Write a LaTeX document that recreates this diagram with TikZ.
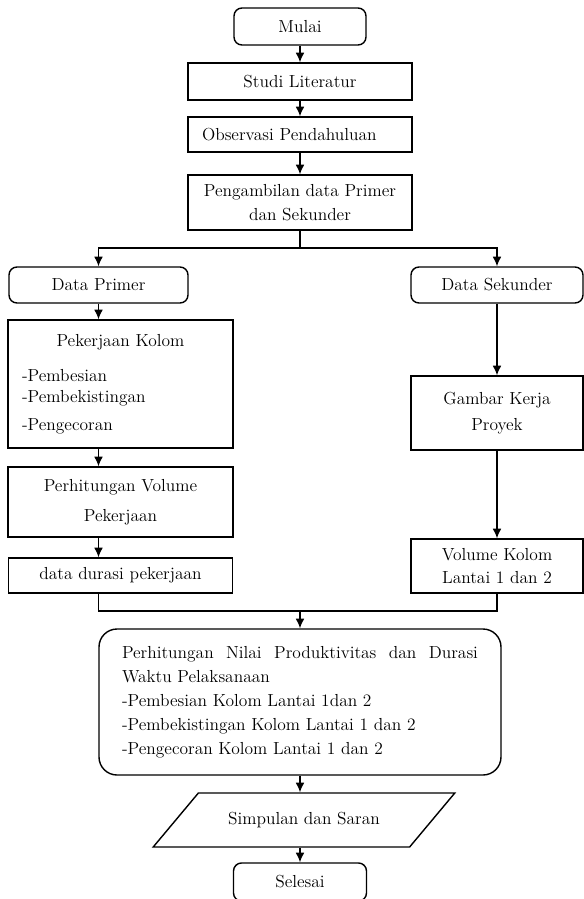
\documentclass[tikz,border=0pt]{standalone}
\usepackage{tikz}
\usetikzlibrary{arrows.meta,positioning,shapes.geometric}

\begin{document}
\begin{tikzpicture}[->,>={Latex[length=2.4mm,width=2.2mm]},line width=1pt,font=\fontsize{12.4}{17}\selectfont]
\tikzstyle{kotak}=[draw,rectangle,text=black,align=center,inner sep=2pt]
\tikzstyle{terminal}=[kotak,rounded corners=0.2cm]
\tikzstyle{data}=[draw,trapezium,trapezium left angle=36,trapezium right angle=144,trapezium stretches=true,minimum width=7.55cm,minimum height=1.35cm]

\useasboundingbox (0,0) rectangle (14.6,-22.475);

\node[terminal,minimum width=3.3cm,minimum height=0.925cm]	(mulai) at (7.5,-0.6625) {Mulai};
\node[kotak,minimum width=5.6cm,minimum height=0.925cm]	(studi) [below of=mulai,node distance=1.375cm] {Studi Literatur};
\node[kotak,minimum width=5.6cm,minimum height=0.875cm,text width=4.9cm,align=left]	(obs) [below of=studi,node distance=1.325cm] {Observasi Pendahuluan};
\node[kotak,minimum width=5.6cm,minimum height=1.375cm]	(ambil) [below of=obs,node distance=1.7cm] {Pengambilan data Primer\\dan Sekunder};

\node[terminal,minimum width=4.475cm,minimum height=0.9cm]	(primer) at (2.4625,-7.125) {Data Primer};
\node[kotak,minimum width=5.625cm,minimum height=3.2cm,text width=4.925cm,align=left]	(kolom) [below of=primer,node distance=2.475cm,xshift=0.55cm] {\makebox[\linewidth]{Pekerjaan Kolom}\\[8pt]-Pembesian\\[-2pt]-Pembekistingan\\[3pt]-Pengecoran};
\node[kotak,minimum width=5.625cm,minimum height=1.75cm]	(volkerja) [below of=kolom,node distance=2.95cm] {Perhitungan Volume\\[4pt]Pekerjaan};
\node[kotak,minimum width=5.6cm,minimum height=0.875cm]	(durasi) [below of=volkerja,node distance=1.8375cm] {data durasi pekerjaan};

\node[terminal,minimum width=4.3cm,minimum height=0.9cm]	(sekunder) at (12.425,-7.125) {Data Sekunder};
\node[kotak,minimum width=4.3cm,minimum height=1.85cm]	(gambar) [below of=sekunder,node distance=3.2cm] {Gambar Kerja\\[1.5pt]Proyek};
\node[kotak,minimum width=4.3cm,minimum height=1.35cm]	(volkolom) [below of=gambar,node distance=3.825cm] {Volume Kolom\\[-1pt]Lantai 1 dan 2};

\node[kotak,rounded corners=0.45cm,minimum width=10.05cm,minimum height=3.65cm,text width=8.9cm,align=justify]	(hasil) at (7.5,-17.55) {Perhitungan Nilai Produktivitas dan Durasi\linebreak Waktu Pelaksanaan\\-Pembesian Kolom Lantai 1dan 2\\-Pembekistingan Kolom Lantai 1 dan 2\\-Pengecoran Kolom Lantai 1 dan 2};
\node[data]	(simpulan) [below of=hasil,node distance=2.95cm,xshift=0.1cm] {Simpulan dan Saran};
\node[terminal,minimum width=3.325cm,minimum height=0.95cm]	(selesai) [below of=simpulan,node distance=1.55cm,xshift=-0.1cm] {Selesai};

\coordinate (pecah) at (7.5,-6.2);
\coordinate (gabung) at (7.5,-15.275);

\path
(mulai) edge (studi)
(studi) edge (obs)
(obs) edge (ambil)
(primer) edge (primer |- kolom.north)
(primer |- kolom.south) edge (primer |- volkerja.north)
(primer |- volkerja.south) edge (primer |- durasi.north)
(sekunder) edge (gambar)
(gambar) edge (volkolom)
(hasil) edge (hasil |- simpulan.north)
(selesai |- simpulan.south) edge (selesai)
;
\draw (ambil) -- (pecah) -| (primer);
\draw (pecah) -| (sekunder);
\draw[-] (primer |- durasi.south) |- (gabung) -| (volkolom);
\draw (gabung) -- (hasil);
\end{tikzpicture}
\end{document}
